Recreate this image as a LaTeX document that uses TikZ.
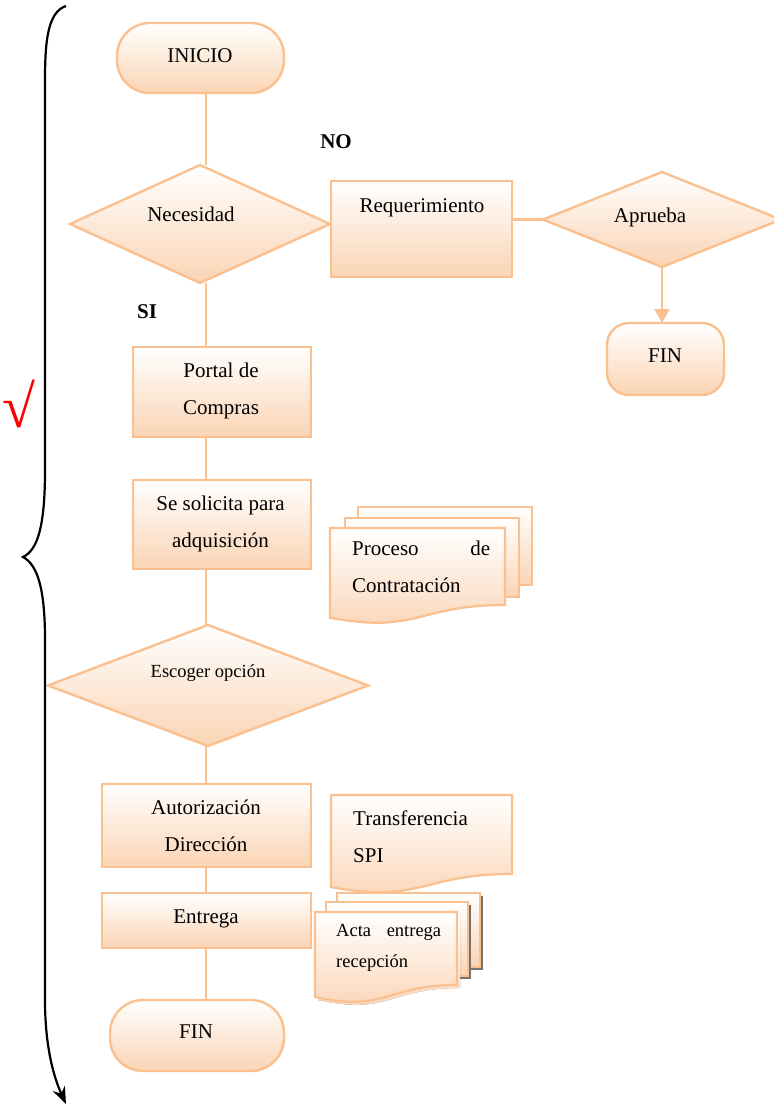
\documentclass[tikz,border=0pt]{standalone}
\usepackage{fontspec}
\setmainfont{Liberation Serif}
\usetikzlibrary{shapes.geometric,arrows.meta}
\pgfdeclarelayer{bg}
\pgfsetlayers{bg,main}

\definecolor{peachline}{HTML}{FAC08F}
\definecolor{peachfill}{HTML}{FBD4B4}

% multi-line labels whose baseline is that of the first line
\newcommand\linesc[1]{\begin{tabular}[t]{@{}c@{}}#1\end{tabular}}
\newcommand\linesl[1]{\begin{tabular}[t]{@{}l@{}}#1\end{tabular}}

% flowchart "document" symbol: x, y of top-left corner, width, height
\newcommand\docshape[5][]{%
  \path[docface,#1] (#2,#3) -- ({#2+#4},#3) -- ({#2+#4},{#3+0.802*#5})
    .. controls ({#2+0.5*#4},{#3+0.802*#5}) and ({#2+0.5*#4},{#3+1.107*#5})
    .. (#2,{#3+0.934*#5}) -- cycle;}

\tikzset{
  face/.style={draw=peachline, line width=2.4pt, top color=white,
    bottom color=peachfill, inner sep=0pt, outer sep=0pt},
  box/.style={face, rectangle},
  terminal/.style={face, rectangle, rounded corners=#1},
  decision/.style={face, diamond},
  docface/.style={draw=peachline, line width=2.2pt, top color=white,
    bottom color=peachfill},
  docshadow/.style={fill=black!55, draw=none},
  link/.style={draw=peachline, line width=2.4pt},
  lbl/.style={font=\fontsize{21}{37}\selectfont, inner sep=0pt, anchor=base},
  lblsmall/.style={font=\fontsize{18.5}{31}\selectfont, inner sep=0pt, anchor=base},
  tag/.style={lbl, font=\fontsize{21}{37}\selectfont\bfseries},
}

\begin{document}
\begin{tikzpicture}[x=1pt,y=-1pt]
\useasboundingbox (0,0) rectangle (774,1106);
\clip (0,0) rectangle (774,1106);

% ---- main column ----
\node[terminal=33pt, minimum width=167pt, minimum height=70pt] (inicio) at (200.5,58) {};
\node[decision, minimum width=260pt, minimum height=118pt] (necesidad) at (200,224) {};
\node[box, minimum width=181pt, minimum height=96pt] (req) at (421.5,229) {};
\node[decision, minimum width=238pt, minimum height=95pt] (aprueba) at (662,219.5) {};
\node[terminal=22pt, minimum width=117pt, minimum height=72pt] (finr) at (665.5,359) {};
\node[box, minimum width=178pt, minimum height=90pt] (portal) at (222,392) {};
\node[box, minimum width=178pt, minimum height=89pt] (solicita) at (222,524.5) {};
\node[decision, minimum width=320pt, minimum height=121pt] (escoger) at (208,685.5) {};
\node[box, minimum width=209pt, minimum height=83pt] (autoriz) at (206.5,825.5) {};
\node[box, minimum width=209pt, minimum height=55pt] (entrega) at (206.5,920.5) {};
\node[terminal=33pt, minimum width=174pt, minimum height=71pt] (finb) at (197,1035.5) {};

% ---- connectors ----
\coordinate (spine) at (206,0);
\begin{pgfonlayer}{bg}
  \draw[link] (inicio.south -| spine) -- (necesidad.north -| spine);
  \draw[link] (necesidad.south -| spine) -- (portal.north -| spine);
  \draw[link] (portal.south -| spine) -- (solicita.north -| spine);
  \draw[link] (solicita.south -| spine) -- (escoger.north -| spine);
  \draw[link] (escoger.south -| spine) -- (autoriz.north -| spine);
  \draw[link] (autoriz.south -| spine) -- (entrega.north -| spine);
  \draw[link] (entrega.south -| spine) -- (finb.north -| spine);
  \draw[link] (req.east |- aprueba.west) -- (aprueba.west);
\end{pgfonlayer}
\draw[link, -{Triangle[width=15pt,length=14pt]}] (aprueba.south) -- (aprueba.south |- finr.north);

% ---- documents ----
\path[docface] (358,507) rectangle (532,585);
\path[docface] (345,518) rectangle (519,597);
\docshape{330}{528}{175}{96}

\docshape{331}{795}{181}{98.5}

\fill[docshadow] (340,896) rectangle (483,970);
\path[docface] (337,893) rectangle (480,967);
\fill[docshadow] (329,905) rectangle (471,979);
\path[docface] (326,902) rectangle (468,976);
\docshape[docshadow]{318}{915}{142}{91}
\docshape{315}{912}{142}{91}

% ---- labels ----
\node[lbl] (t-inicio) at (200,62) {INICIO};
\node[lbl] (t-necesidad) at (191,221) {Necesidad};
\node[tag] (t-no) at (336,148) {NO};
\node[tag] (t-si) at (147,318) {SI};
\node[lbl] (t-req) at (422,212) {Requerimiento};
\node[lbl] (t-aprueba) at (650,222) {Aprueba};
\node[lbl] (t-finr) at (665,362) {FIN};
\node[lbl] (t-portal) at (221,377) {\linesc{Portal de\\Compras}};
\node[lbl] (t-solicita) at (220.5,510) {\linesc{Se solicita para\\adquisición}};
\node[lblsmall] (t-escoger) at (208,677) {Escoger opción};
\node[lbl] (t-autoriz) at (206,814) {\linesc{Autorización\\Dirección}};
\node[lbl] (t-entrega) at (206,923) {Entrega};
\node[lbl] (t-finb) at (196,1038) {FIN};
\node[lbl, anchor=base west] (t-proceso) at (352,555)
  {\linesl{\makebox[138pt][s]{Proceso de}\\Contratación}};
\node[lbl, anchor=base west] (t-transf) at (353,825) {\linesl{Transferencia\\SPI}};
\node[lblsmall, anchor=base west] (t-acta) at (336,936)
  {\linesl{\makebox[105pt][s]{Acta entrega}\\recepción}};

% ---- side brace with arrow ----
\draw[line width=2.2pt, -{Stealth[length=17pt,width=13pt]}]
  (66,6) .. controls (48,12) and (45,40) .. (45,80) -- (45,470)
  .. controls (45,525) and (38,550) .. (23,557)
  .. controls (38,565) and (45,590) .. (45,640) -- (45,1000)
  .. controls (45,1050) and (55,1080) .. (66,1104);
\node[text=red, font=\fontsize{60}{60}\selectfont, inner sep=0pt] (tick) at (19,404) {√};
\end{tikzpicture}
\end{document}
